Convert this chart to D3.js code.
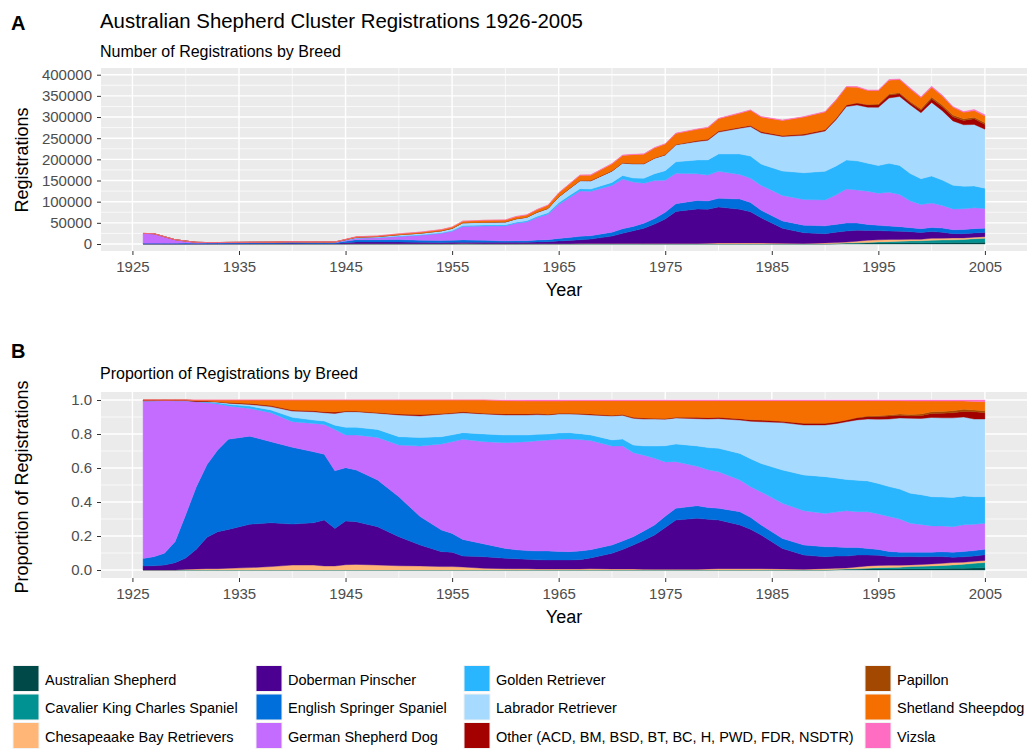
<!DOCTYPE html>
<html>
<head>
<meta charset="utf-8">
<script src="https://cdn.jsdelivr.net/npm/d3@7"></script>
<style>
  body { margin: 0; background: #fff; }
  svg text { font-family: "Liberation Sans", Arial, sans-serif; }
</style>
</head>
<body>
<svg id="chart" width="1036" height="749"></svg>
<script>
// years (denser where the totals move quickly)
const years = [1926, 1927, 1928, 1929, 1930, 1931, 1932, 1933, 1934, 1936,
    1938, 1940, 1942, 1943, 1944, 1945, 1946, 1948, 1950, 1952,
    1954, 1955, 1956, 1958, 1960, 1961, 1962, 1963, 1964, 1965,
    1966, 1967, 1968, 1970, 1971, 1972, 1973, 1974, 1975, 1976,
    1978, 1979, 1980, 1982, 1983, 1984, 1986, 1988, 1990, 1991,
    1992, 1993, 1994, 1995, 1996, 1997, 1998, 1999, 2000, 2001,
    2002, 2003, 2004, 2005];

const breeds = ["Australian Shepherd", "Cavalier King Charles Spaniel", "Chesapeaake Bay Retrievers",
    "Doberman Pinscher", "English Springer Spaniel", "German Shepherd Dog",
    "Golden Retriever", "Labrador Retriever", "Other (ACD, BM, BSD, BT, BC, H, PWD, FDR, NSDTR)",
    "Papillon", "Shetland Sheepdog", "Vizsla"];

const breedColors = ["#004949", "#009292", "#FFB677", "#4B0091", "#006EDB", "#C46CFF",
    "#2AB5FF", "#A6DAFF", "#A30000", "#A34800", "#F56E00", "#FF6DC3"];

// registrations per year, one array per breed (same order as years)
const australianShepherd = [0, 0, 0, 0, 0, 0, 0, 0, 0, 0,
    0, 0, 0, 0, 0, 0, 0, 0, 0, 0,
    0, 0, 0, 0, 0, 0, 0, 0, 0, 0,
    0, 0, 0, 0, 0, 0, 0, 0, 0, 0,
    0, 0, 0, 0, 0, 0, 0, 0, 0, 680,
    1488, 1860, 2184, 2184, 2328, 2730, 2944, 2784, 2976, 3168,
    3250, 3443, 3816, 4300];
const cavalierKingCharles = [0, 0, 0, 0, 0, 0, 0, 0, 0, 0,
    0, 0, 0, 0, 0, 0, 0, 0, 0, 0,
    0, 0, 0, 0, 0, 0, 0, 0, 0, 0,
    0, 0, 0, 0, 0, 0, 0, 0, 0, 0,
    0, 0, 0, 0, 0, 0, 0, 0, 0, 340,
    744, 1116, 1456, 2548, 3104, 3510, 4416, 4872, 5952, 6336,
    6500, 7199, 8586, 9200];
const chesapeake = [0, 0, 0, 0, 30, 24, 28, 28, 38, 59,
    90, 160, 145, 120, 120, 341, 561, 551, 600, 672,
    680, 800, 972, 560, 456, 520, 552, 492, 552, 726,
    852, 978, 1304, 1140, 1260, 1272, 1065, 912, 948, 1048,
    1088, 1656, 2376, 2480, 2536, 2408, 1758, 1204, 2504, 2380,
    2232, 3720, 5096, 5096, 5432, 4680, 3680, 3480, 4464, 4224,
    4550, 3756, 3816, 3700];
const doberman = [600, 610, 500, 440, 460, 464, 644, 760, 870, 1071,
    1161, 1326, 1245, 1350, 1105, 2827, 4267, 4294, 4104, 3444,
    2992, 3400, 3456, 3808, 3477, 3770, 3795, 4428, 4876, 6413,
    7526, 8965, 10269, 17480, 24150, 29892, 36210, 46056, 58302, 75980,
    81600, 80592, 84942, 79670, 73544, 59598, 35453, 25284, 21910, 24480,
    26040, 26040, 23296, 21840, 19788, 19500, 18032, 16008, 15996, 14080,
    10075, 10016, 9858, 10000];
const englishSpringer = [1100, 1300, 1200, 1260, 1790, 1472, 1491, 1684, 2014, 2180,
    2147, 2486, 2090, 1940, 1695, 3454, 5168, 5225, 5640, 4676,
    4318, 4400, 5292, 4200, 3306, 3445, 3519, 4264, 4876, 6050,
    6958, 8313, 7987, 9310, 10500, 10388, 11715, 13452, 15642, 18078,
    20128, 19320, 20493, 24180, 22190, 17759, 17287, 17759, 18467, 18360,
    18972, 16740, 14196, 12376, 11640, 10530, 9568, 9048, 9672, 9856,
    9425, 9703, 10176, 10000];
const germanShepherd = [23150, 22470, 15560, 8460, 4690, 2000, 1270, 945, 745, 685,
    770, 830, 835, 880, 1215, 2112, 3502, 4750, 7296, 11620,
    17204, 21600, 31806, 33712, 35454, 41080, 44229, 53136, 60076, 79860,
    94146, 106765, 104809, 110580, 117390, 104728, 94785, 89376, 75840, 71788,
    63104, 61272, 63855, 57970, 57060, 58695, 60358, 60802, 61348, 69700,
    80352, 78120, 78624, 76076, 79928, 76050, 62928, 57072, 57660, 53504,
    49075, 49141, 49290, 46700];
const golden = [0, 0, 0, 0, 0, 0, 21, 28, 38, 59,
    72, 138, 100, 100, 130, 495, 765, 893, 1176, 1428,
    1462, 1600, 2106, 2520, 2565, 2795, 2691, 3116, 3220, 4477,
    5254, 5705, 5379, 6840, 8400, 9540, 11715, 16416, 22515, 27248,
    32640, 35880, 40986, 48360, 52305, 50267, 57428, 63210, 67608, 68000,
    68448, 68820, 65884, 65156, 68288, 68640, 64768, 60900, 63984, 59840,
    55900, 53210, 51516, 47900];
const labrador = [0, 0, 0, 0, 0, 0, 0, 14, 23, 42,
    90, 204, 245, 245, 345, 1012, 1564, 1805, 3072, 3528,
    4488, 5000, 6318, 6608, 6726, 7670, 8142, 9512, 10304, 13552,
    15620, 18582, 19234, 26790, 29400, 33284, 33654, 36252, 36972, 40086,
    43520, 46368, 51678, 60760, 69740, 74046, 81747, 88494, 95152, 108800,
    126480, 132060, 132496, 137592, 154424, 163020, 162288, 155904, 173724, 164032,
    152100, 145232, 145326, 139400];
const otherBreeds = [150, 120, 40, 40, 30, 24, 14, 7, 15, 25,
    27, 33, 30, 30, 40, 44, 68, 76, 144, 224,
    136, 200, 324, 224, 342, 390, 414, 492, 368, 484,
    568, 652, 978, 760, 840, 1272, 1278, 912, 948, 1048,
    2176, 2208, 2376, 2480, 2853, 3010, 2344, 3010, 3130, 3400,
    3720, 4464, 5096, 5824, 6984, 6240, 5152, 5916, 8928, 9504,
    9750, 10329, 13674, 11300];
const papillon = [0, 0, 0, 0, 0, 0, 0, 0, 0, 0,
    0, 0, 0, 0, 0, 0, 0, 0, 0, 0,
    0, 0, 0, 0, 0, 0, 0, 0, 0, 0,
    0, 0, 0, 0, 0, 0, 0, 0, 0, 0,
    0, 0, 0, 0, 0, 0, 0, 0, 0, 0,
    0, 744, 1456, 1820, 2328, 2730, 2944, 3480, 3720, 3872,
    3900, 3756, 3180, 3700];
const shetland = [0, 0, 0, 0, 0, 16, 21, 35, 57, 84,
    148, 325, 315, 345, 355, 715, 1105, 1406, 1968, 2408,
    2720, 3000, 3726, 4368, 4446, 5005, 5244, 6068, 7176, 8712,
    10508, 12388, 12714, 16340, 17220, 20776, 21726, 23712, 24885, 25676,
    26656, 27600, 29106, 32860, 35504, 34314, 35453, 40033, 41629, 42500,
    42408, 36828, 32760, 32032, 32592, 30810, 29440, 26448, 23436, 21472,
    18525, 15337, 15900, 16200];
const vizsla = [0, 0, 0, 0, 0, 0, 0, 0, 0, 0,
    0, 0, 0, 0, 0, 0, 0, 0, 0, 0,
    0, 0, 0, 0, 228, 325, 414, 492, 552, 726,
    568, 652, 652, 760, 840, 848, 852, 912, 948, 1048,
    1088, 1104, 1188, 1240, 1268, 1204, 1172, 1204, 1252, 1360,
    1488, 1488, 1456, 1456, 1552, 1560, 2208, 2088, 2232, 2112,
    1950, 1878, 2862, 3000];

const breedSeries = [australianShepherd, cavalierKingCharles, chesapeake, doberman,
    englishSpringer, germanShepherd, golden, labrador, otherBreeds, papillon, shetland, vizsla];

const xTicks = [1925, 1935, 1945, 1955, 1965, 1975, 1985, 1995, 2005];
const countTicks = [0, 50000, 100000, 150000, 200000, 250000, 300000, 350000, 400000];
const shareTicks = [0, 0.2, 0.4, 0.6, 0.8, 1.0];

let table = years.map(function(yr, i) {
    let row = {year: yr};
    breeds.forEach(function(b, j) { row[b] = breedSeries[j][i]; });
    return row;
});

let countStack = d3.stack().keys(breeds)(table);
let shareStack = d3.stack().keys(breeds).offset(d3.stackOffsetExpand)(table);

let color = d3.scaleOrdinal().domain(breeds).range(breedColors);

let svg = d3.select("#chart");

let x = d3.scaleLinear()
    .domain([1926 - 0.05 * 79, 2005 + 0.05 * 79])
    .range([101, 1027]);

function midpoints(ticks) {
    let out = [];
    for (let i = 0; i < ticks.length - 1; i++) out.push((ticks[i] + ticks[i + 1]) / 2);
    return out;
}

function drawPanel(top, bottom, y, stacked, yTicks, yFormat) {
    let left = x.range()[0], right = x.range()[1];
    let g = svg.append("g");

    g.append("rect")
        .attr("x", left).attr("y", top)
        .attr("width", right - left).attr("height", bottom - top)
        .attr("fill", "#EBEBEB");

    // minor then major grid lines
    g.selectAll(".ymin").data(midpoints(yTicks)).enter().append("line")
        .attr("x1", left).attr("x2", right)
        .attr("y1", d => y(d)).attr("y2", d => y(d))
        .attr("stroke", "#fff").attr("stroke-width", 0.7);
    g.selectAll(".xmin").data(midpoints(xTicks)).enter().append("line")
        .attr("y1", top).attr("y2", bottom)
        .attr("x1", d => x(d)).attr("x2", d => x(d))
        .attr("stroke", "#fff").attr("stroke-width", 0.7);
    g.selectAll(".ymaj").data(yTicks).enter().append("line")
        .attr("x1", left).attr("x2", right)
        .attr("y1", d => y(d)).attr("y2", d => y(d))
        .attr("stroke", "#fff").attr("stroke-width", 1.4);
    g.selectAll(".xmaj").data(xTicks).enter().append("line")
        .attr("y1", top).attr("y2", bottom)
        .attr("x1", d => x(d)).attr("x2", d => x(d))
        .attr("stroke", "#fff").attr("stroke-width", 1.4);

    let area = d3.area()
        .x(d => x(d.data.year))
        .y0(d => y(d[0]))
        .y1(d => y(d[1]));

    g.selectAll(".layer").data(stacked).enter().append("path")
        .attr("d", area)
        .attr("fill", d => color(d.key))
        .attr("stroke", d => color(d.key))
        .attr("stroke-width", 0.4);

    let yAxis = g.append("g")
        .attr("transform", `translate(${left}, 0)`)
        .call(d3.axisLeft(y).tickValues(yTicks).tickFormat(yFormat).tickSize(4).tickPadding(5));
    let xAxis = g.append("g")
        .attr("transform", `translate(0, ${bottom})`)
        .call(d3.axisBottom(x).tickValues(xTicks).tickFormat(d3.format("d")).tickSize(4).tickPadding(6));

    [yAxis, xAxis].forEach(function(ax) {
        ax.attr("font-family", null).attr("font-size", null);
        ax.select(".domain").remove();
        ax.selectAll(".tick line").attr("stroke", "#333333").attr("stroke-width", 1);
        ax.selectAll(".tick text").attr("fill", "#4D4D4D").style("font-size", "15px");
    });
}

// panel A: counts
let yCount = d3.scaleLinear().domain([0, 400000]).range([244, 74.7]);
drawPanel(68, 251, yCount, countStack, countTicks, d3.format("d"));

// panel B: proportions
let yShare = d3.scaleLinear().domain([0, 1]).range([570, 400]);
drawPanel(392, 578, yShare, shareStack, shareTicks, d3.format(".1f"));

// titles and labels
svg.append("text").attr("x", 11).attr("y", 30).style("font-size", "20px").style("font-weight", "bold").text("A");
svg.append("text").attr("x", 100).attr("y", 28).style("font-size", "20.4px")
    .text("Australian Shepherd Cluster Registrations 1926-2005");
svg.append("text").attr("x", 100).attr("y", 57).style("font-size", "16px")
    .text("Number of Registrations by Breed");
svg.append("text").attr("transform", "translate(28, 160) rotate(-90)")
    .style("text-anchor", "middle").style("font-size", "18px").text("Registrations");
svg.append("text").attr("x", 564).attr("y", 296)
    .style("text-anchor", "middle").style("font-size", "18px").text("Year");

svg.append("text").attr("x", 11).attr("y", 358).style("font-size", "20px").style("font-weight", "bold").text("B");
svg.append("text").attr("x", 100).attr("y", 379).style("font-size", "16px")
    .text("Proportion of Registrations by Breed");
svg.append("text").attr("transform", "translate(28, 487) rotate(-90)")
    .style("text-anchor", "middle").style("font-size", "18px").text("Proportion of Registrations");
svg.append("text").attr("x", 564).attr("y", 623)
    .style("text-anchor", "middle").style("font-size", "18px").text("Year");

// legend: 4 columns x 3 rows, filled column by column
const legendColX = [13, 256, 464, 865];
const legendRowY = [665.5, 694, 722.5];

let legend = svg.append("g").selectAll("g").data(breeds).enter().append("g")
    .attr("transform", (d, i) => `translate(${legendColX[Math.floor(i / 3)]}, ${legendRowY[i % 3]})`);

legend.append("rect")
    .attr("width", 26).attr("height", 26)
    .attr("fill", d => color(d))
    .attr("stroke", "#F2F2F2").attr("stroke-width", 1);

legend.append("text")
    .attr("x", 32).attr("y", 14)
    .attr("dominant-baseline", "central")
    .style("font-size", "14.5px")
    .text(d => d);
</script>
</body>
</html>
